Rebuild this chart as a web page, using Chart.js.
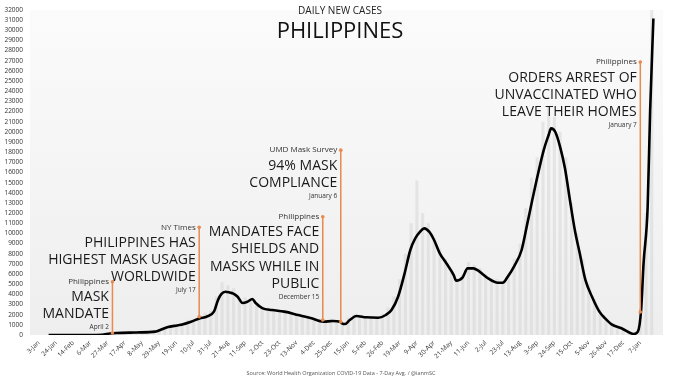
<!DOCTYPE html>
<html>
<head>
<meta charset="utf-8">
<script src="https://cdn.jsdelivr.net/npm/chart.js@4/dist/chart.umd.min.js"></script>
<style>
html,body{margin:0;padding:0;background:#ffffff;}
#wrap{width:680px;height:383px;}
</style>
</head>
<body>
<div id="wrap"><canvas id="c" width="680" height="383"></canvas></div>
<script>
// ---- DATA ----
const tickLabels = ['3-Jan','24-Jan','14-Feb','6-Mar','27-Mar','17-Apr','8-May','29-May','19-Jun','10-Jul','31-Jul','21-Aug','11-Sep','2-Oct','23-Oct','13-Nov','4-Dec','25-Dec','15-Jan','5-Feb','26-Feb','19-Mar','9-Apr','30-Apr','21-May','11-Jun','2-Jul','23-Jul','13-Aug','3-Sep','24-Sep','15-Oct','5-Nov','26-Nov','17-Dec','7-Jan'];
const tickDays = tickLabels.map((_, i) => i * 21); // days since 3-Jan-2020

// 7-day average (black line): day index since 3-Jan-2020, cases
const avgDays  = [12,36,59,77,87,95,119,142,146,158,166,174,186,197,205,214,219,223,228,234,237,243,249,255,261,265,273,285,300,317,332,348,359,368,370,374,380,388,400,415,424,431,439,447,454,460,466,471,477,483,490,498,507,510,518,524,531,537,549,561,567,573,581,590,597,603,609,617,623,626,631,637,643,649,655,661,668,676,685,692,700,712,727,732,736,739,744,747,751];
const avgCases = [0,0,5,30,150,200,250,330,420,780,900,1000,1300,1650,1800,2300,3450,4030,4260,4160,4100,3770,3150,3280,3540,3150,2650,2460,2300,1970,1670,1310,1380,1310,1180,1080,1480,1870,1740,1700,1970,2460,3770,6070,8370,9510,10170,10500,10170,9350,8040,7060,5900,5350,5680,6560,6560,6330,5580,5150,5150,5740,6790,8370,10990,13290,15500,18210,19690,20340,20010,18530,16400,13290,10330,8040,5410,3770,2300,1640,1050,660,100,330,2460,7060,12630,22000,31170];

// raw daily reports (grey bars), sampled weekly
const rawDays  = [0,7,14,21,28,35,42,49,56,63,70,77,84,91,98,105,112,119,126,133,140,147,154,161,168,175,182,189,196,203,210,217,224,231,238,245,252,259,266,273,280,287,294,301,308,315,322,329,336,343,350,357,364,371,378,385,392,399,406,413,420,427,434,441,448,455,462,469,476,483,490,497,504,511,518,525,532,539,546,553,560,567,574,581,588,595,602,609,616,623,630,637,644,651,658,665,672,679,686,693,700,707,714,721,728,735,742,749];
const rawCases = [0,0,0,0,0,0,0,0,0,0,10,40,120,250,220,280,230,260,240,280,330,500,750,900,1100,1000,1500,1500,1900,2200,2400,3800,5200,4900,4600,3400,3700,3500,2900,2800,2700,2500,2300,2400,2000,2100,1900,1700,1600,1500,1500,1600,1300,1200,1700,2000,1800,1800,1700,1800,2100,2700,3800,5500,8000,11000,15200,12000,11000,9500,8500,7500,6400,5600,6000,7200,6900,6600,6000,5600,5500,5300,6000,7500,9000,12500,15500,17500,21000,22500,21500,20000,17500,13000,10000,7500,5000,3500,2500,1600,1200,700,500,300,200,1500,12000,32000];

// annotations
const noteDays      = [90, 196, 347, 369, 735];
const noteTops      = [5250, 10600, 11650, 18200, 26870];
const noteBottoms   = [200, 1800, 1480, 1300, 2260];
const noteSources   = ['Philippines', 'NY Times', 'Philippines', 'UMD Mask Survey', 'Philippines'];
const noteHeadlines = [
  ['MASK', 'MANDATE'],
  ['PHILIPPINES HAS', 'HIGHEST MASK USAGE', 'WORLDWIDE'],
  ['MANDATES FACE', 'SHIELDS AND', 'MASKS WHILE IN', 'PUBLIC'],
  ['94% MASK', 'COMPLIANCE'],
  ['ORDERS ARREST OF', 'UNVACCINATED WHO', 'LEAVE THEIR HOMES']
];
const noteDates = ['April 2', 'July 17', 'December 15', 'January 6', 'January 7'];

const titleSmall = 'DAILY NEW CASES';
const titleBig = 'PHILIPPINES';
const sourceText = 'Source: World Health Organization COVID-19 Data - 7-Day Avg. / @ianmSC';

// ---- CHART ----
const FONT = '"Open Sans", "Noto Sans", sans-serif';
const ORANGE = '#E8894D';

const bgPlugin = {
  id: 'bg',
  beforeDraw(chart) {
    const {ctx, chartArea: a} = chart;
    ctx.save();
    ctx.fillStyle = '#ffffff';
    ctx.fillRect(0, 0, chart.width, chart.height);
    const g = ctx.createLinearGradient(0, a.top, 0, a.bottom);
    g.addColorStop(0, '#fbfbfb');
    g.addColorStop(1, '#eeeeee');
    ctx.fillStyle = g;
    ctx.fillRect(a.left, a.top, a.right - a.left, a.bottom - a.top);
    ctx.restore();
  }
};

const textPlugin = {
  id: 'texts',
  afterDatasetsDraw(chart) {
    const {ctx} = chart;
    const xs = chart.scales.x, ys = chart.scales.y;
    ctx.save();
    // titles
    ctx.textAlign = 'center';
    ctx.textBaseline = 'middle';
    ctx.fillStyle = '#222';
    ctx.font = '500 10px ' + FONT;
    ctx.fillText(titleSmall, 340, 11);
    ctx.font = '400 22px ' + FONT;
    ctx.fillStyle = '#111';
    ctx.fillText(titleBig, 340, 32);
    // source
    ctx.font = '5.5px ' + FONT;
    ctx.fillStyle = '#555';
    ctx.fillText(sourceText, 341, 373);

    // annotations
    for (let i = 0; i < noteDays.length; i++) {
      const x = xs.getPixelForValue(noteDays[i]);
      const yt = ys.getPixelForValue(noteTops[i]);
      const yb = ys.getPixelForValue(noteBottoms[i]);
      ctx.strokeStyle = ORANGE;
      ctx.fillStyle = ORANGE;
      ctx.lineWidth = 1.5;
      ctx.beginPath();
      ctx.moveTo(x, yt);
      ctx.lineTo(x, yb);
      ctx.stroke();
      ctx.beginPath(); ctx.arc(x, yt, 1.8, 0, Math.PI * 2); ctx.fill();
      ctx.beginPath(); ctx.arc(x, yb, 1.8, 0, Math.PI * 2); ctx.fill();

      const tx = x - 3.5;
      ctx.textAlign = 'right';
      ctx.textBaseline = 'middle';
      ctx.fillStyle = '#333';
      ctx.font = '8px ' + FONT;
      ctx.fillText(noteSources[i], tx, yt);
      ctx.fillStyle = '#1a1a1a';
      ctx.font = '14px ' + FONT;
      let y = yt + 15.5;
      const lines = noteHeadlines[i];
      for (let j = 0; j < lines.length; j++) {
        ctx.fillText(lines[j], tx, y);
        if (j < lines.length - 1) y += 17.3;
      }
      ctx.fillStyle = '#333';
      ctx.font = '6.5px ' + FONT;
      ctx.fillText(noteDates[i], tx, y + 13);
    }
    ctx.restore();
  }
};

const lineData = avgDays.map((d, i) => ({x: d, y: avgCases[i]}));
const barData = rawDays.map((d, i) => ({x: d, y: rawCases[i]}));

new Chart(document.getElementById('c'), {
  type: 'bar',
  data: {
    datasets: [
      {
        type: 'line',
        data: lineData,
        borderColor: '#000000',
        borderWidth: 2.6,
        pointRadius: 0,
        tension: 0.2,
        cubicInterpolationMode: 'monotone',
        order: 0
      },
      {
        type: 'bar',
        data: barData,
        backgroundColor: 'rgba(205,205,205,0.4)',
        borderWidth: 0,
        barPercentage: 0.55,
        categoryPercentage: 1,
        order: 1
      }
    ]
  },
  options: {
    responsive: false,
    animation: false,
    devicePixelRatio: 1,
    layout: {padding: {top: 10, right: 17, left: 0, bottom: 0}},
    plugins: {legend: {display: false}, tooltip: {enabled: false}, title: {display: false}},
    scales: {
      x: {
        type: 'linear',
        min: 0,
        max: 752,
        grid: {display: false, drawTicks: false},
        border: {display: false},
        afterBuildTicks(scale) { scale.ticks = tickDays.map(v => ({value: v})); },
        afterFit(scale) { scale.height = 48; scale.paddingLeft = 0; scale.paddingRight = 0; },
        ticks: {
          autoSkip: false,
          minRotation: 45,
          maxRotation: 45,
          padding: 4,
          color: '#333',
          font: {size: 6.5, family: FONT},
          callback: (v, i) => tickLabels[i]
        }
      },
      y: {
        min: 0,
        max: 32000,
        grid: {display: false, drawTicks: false},
        border: {display: false},
        afterFit(scale) { scale.width = 30; scale.paddingTop = 0; scale.paddingBottom = 0; },
        ticks: {
          stepSize: 1000,
          autoSkip: false,
          padding: 7,
          color: '#333',
          font: {size: 6.5, family: FONT},
          callback: v => String(v)
        }
      }
    }
  },
  plugins: [bgPlugin, textPlugin]
});
</script>
</body>
</html>
